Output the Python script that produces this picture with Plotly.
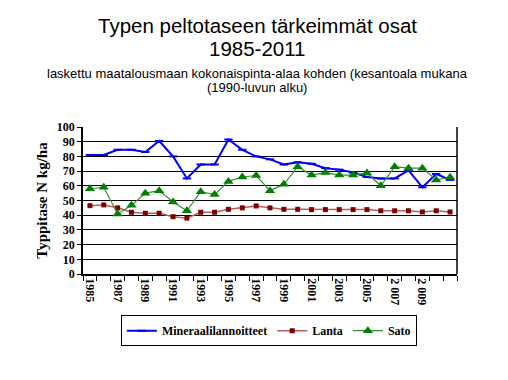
import plotly.graph_objects as go

years = list(range(1985, 2012))
mineraali = [81, 81, 84.5, 84.5, 83, 90.5, 80, 65, 74.5, 74.5, 91.5, 84.5, 80, 78, 74.5, 76,
             75, 72, 71, 69, 66, 65, 65, 70.5, 59, 68, 64]
lanta = [46.5, 47, 45, 42, 41.3, 41.3, 39, 38, 42, 42, 44, 45, 46.3, 45, 44, 44,
         43.8, 43.8, 43.8, 43.8, 43.8, 43, 43, 43, 42.2, 43, 42.2]
sato = [58, 59, 40.8, 46.7, 55, 56.7, 49, 43, 56, 54, 63, 66, 67, 56.7, 61, 73,
        67.3, 69, 67.3, 67.3, 68.7, 60, 73, 72, 72, 64, 65.8]
tick_years = [1985, 1987, 1989, 1991, 1993, 1995, 1997, 1999, 2001, 2003, 2005, 2007, 2009]
tick_text = ["1985", "1987", "1989", "1991", "1993", "1995", "1997", "1999", "2001", "2003",
             "2005", "2 007", "2 009"]

fig = go.Figure()
fig.add_trace(go.Scatter(x=years, y=mineraali, name="Mineraalilannoitteet", mode="lines+markers",
                         line=dict(color="#0000FF", width=2),
                         marker=dict(symbol="line-ew", size=6, color="#0000FF",
                                     line=dict(color="#0000FF", width=2))))
fig.add_trace(go.Scatter(x=years, y=lanta, name="Lanta", mode="lines+markers",
                         line=dict(color="#B06060", width=1.5),
                         marker=dict(symbol="square", size=5, color="#800000")))
fig.add_trace(go.Scatter(x=years, y=sato, name="Sato", mode="lines+markers",
                         line=dict(color="#3A8A3A", width=1.2),
                         marker=dict(symbol="triangle-up", size=9, color="#008000")))

# page body has an 8px margin, so the figure is shifted by 8px; compensate here
fig.update_layout(
    width=500, height=372,
    margin=dict(l=75, r=51, t=119, b=106),
    paper_bgcolor="white", plot_bgcolor="white",
    showlegend=True,
    legend=dict(orientation="h", x=0.497, xanchor="center", y=-0.28, yanchor="top",
                bordercolor="black", borderwidth=1,
                font=dict(family="Liberation Serif", size=12, color="black", weight="bold"),
                itemwidth=30, tracegroupgap=0),
)
titles = [
    ("Typen peltotaseen tärkeimmät osat", 26, 20.5),
    ("1985-2011", 49, 20.5),
    ("laskettu maatalousmaan kokonaispinta-alaa kohden (kesantoala mukana", 73, 13),
    ("(1990-luvun alku)", 88, 13),
]
for txt, yc, fs in titles:
    fig.add_annotation(text=txt, x=(257 - 83) / 374, y=1 + (127 - yc) / 147,
                       xref="paper", yref="paper", showarrow=False,
                       xanchor="center", yanchor="middle",
                       font=dict(family="Liberation Sans", size=fs, color="black"))

fig.update_xaxes(range=[1984.5, 2011.5], tickvals=tick_years, ticktext=tick_text,
                 tickangle=90, ticks="", showgrid=False, zeroline=False,
                 showline=True, linecolor="black", linewidth=1.5, mirror=False,
                 tickfont=dict(family="Liberation Serif", size=12, color="black", weight="bold"),
                 minor=dict(ticks="outside", tick0=1984.5, dtick=1, ticklen=5,
                            tickcolor="black", tickwidth=1, showgrid=False))
fig.update_yaxes(range=[0, 100], dtick=10, ticks="outside", ticklen=4, tickcolor="black",
                 showgrid=True, gridcolor="black", gridwidth=1, zeroline=False,
                 showline=True, linecolor="black", linewidth=1.5,
                 tickfont=dict(family="Liberation Serif", size=12, color="black", weight="bold"),
                 title=dict(text="Typpitase N kg/ha", standoff=6,
                            font=dict(family="Liberation Serif", size=15, color="black", weight="bold")))
# right border
fig.add_shape(type="line", xref="paper", yref="paper", x0=1, x1=1, y0=0, y1=1,
              line=dict(color="black", width=1.5))

fig.write_html("out.html")
